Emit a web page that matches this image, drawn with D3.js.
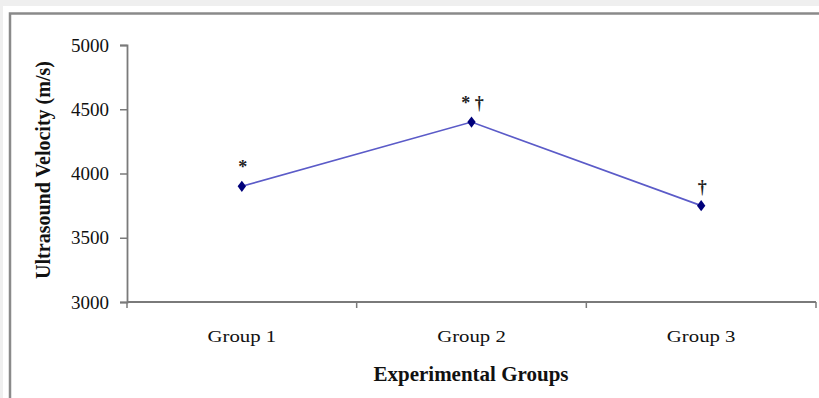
<!DOCTYPE html>
<html><head><meta charset="utf-8">
<script src="https://cdn.jsdelivr.net/npm/d3@7"></script>
<style>html,body{margin:0;padding:0;background:#efefef;overflow:hidden}</style>
</head><body>
<svg id="c" width="819" height="398"></svg>
<script>
const categories = ["Group 1", "Group 2", "Group 3"];
const velocity = [3900, 4400, 3750];
const marks = ["*", "* \u2020", "\u2020"];
const yTicks = [3000, 3500, 4000, 4500, 5000];
const yTitle = "Ultrasound Velocity (m/s)";
const xTitle = "Experimental Groups";

const svg = d3.select("#c");
const serif = "'Liberation Serif','Times New Roman',serif";

// panel
svg.append("rect").attr("x", 3).attr("y", 6).attr("width", 816).attr("height", 392).attr("fill", "#fff");
svg.append("path").attr("d", "M10,398V13.5H819").attr("fill", "none").attr("stroke", "#8a8a8a").attr("stroke-width", 2.5);

const x = d3.scaleBand().domain(categories).range([127, 816]);
const y = d3.scaleLinear().domain([3000, 5000]).range([302, 45]);

// y axis
const ya = svg.append("g").attr("transform", "translate(127,0)")
  .call(d3.axisLeft(y).tickValues(yTicks).tickSize(7).tickPadding(11).tickFormat(d3.format("d")));
ya.select(".domain").attr("stroke", "#7a7a7a").attr("stroke-width", 1.8);
ya.selectAll(".tick line").attr("stroke", "#7a7a7a").attr("stroke-width", 1.5);
ya.selectAll(".tick text").attr("fill", "#111").attr("font-family", serif).attr("font-size", 19);

// x axis
const xa = svg.append("g").attr("transform", "translate(0,302)")
  .call(d3.axisBottom(x).tickSize(0).tickPadding(0));
xa.select(".domain").attr("stroke", "#7a7a7a").attr("stroke-width", 2).attr("d", "M127,0H816");
xa.selectAll(".tick text").remove();
// category boundary ticks
const bounds = [127].concat(categories.map(c => x(c) + x.bandwidth()));
svg.append("g").selectAll("line").data(bounds).join("line")
  .attr("x1", d => d).attr("x2", d => d).attr("y1", 302).attr("y2", 308)
  .attr("stroke", "#7a7a7a").attr("stroke-width", 1.5);
svg.append("g").selectAll("text").data(categories).join("text")
  .attr("transform", d => `translate(${x(d) + x.bandwidth() / 2},342) scale(1.3,1)`)
  .attr("text-anchor", "middle").attr("font-family", serif).attr("font-size", 16).attr("fill", "#111")
  .text(d => d);

// titles
svg.append("text").attr("transform", "translate(50,170) rotate(-90)")
  .attr("text-anchor", "middle").attr("font-family", serif).attr("font-weight", "bold")
  .attr("font-size", 20).attr("fill", "#111").text(yTitle);
svg.append("text").attr("x", 471).attr("y", 381)
  .attr("text-anchor", "middle").attr("font-family", serif).attr("font-weight", "bold")
  .attr("font-size", 21).attr("fill", "#111").text(xTitle);

// line
const data = categories.map((c, i) => ({c, v: velocity[i], m: marks[i]}));
const cx = d => x(d.c) + x.bandwidth() / 2;
svg.append("path").datum(data)
  .attr("d", d3.line().x(cx).y(d => y(d.v)))
  .attr("fill", "none").attr("stroke", "#5b5bc8").attr("stroke-width", 1.6);
svg.append("g").selectAll("path").data(data).join("path")
  .attr("transform", d => `translate(${cx(d)},${y(d.v)}) scale(1.3,1)`)
  .attr("d", d3.symbol(d3.symbolDiamond, 36))
  .attr("fill", "#00007a");
svg.append("g").selectAll("text").data(data).join("text")
  .attr("x", d => cx(d) + 1).attr("y", d => y(d.v) - 13)
  .attr("text-anchor", "middle").attr("font-family", serif).attr("font-weight", "bold")
  .attr("font-size", 18).attr("fill", "#222")
  .text(d => d.m);
</script>
</body></html>
